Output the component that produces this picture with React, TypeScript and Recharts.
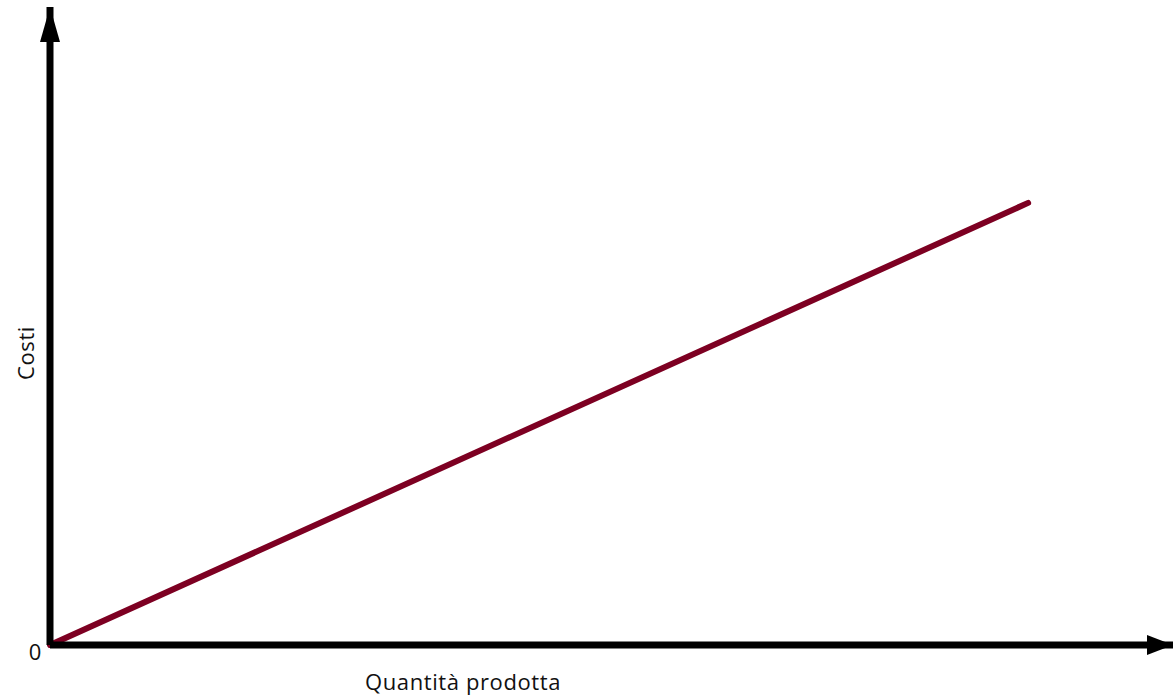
import React from 'react';
import { LineChart, Line, XAxis, YAxis, ReferenceDot } from 'recharts';

// quantity produced vs. cost (linear variable cost)
const quantities = [0, 87.1];
const costs = [0, 69.3];
const yTicks = [0];
const xLabel = 'Quantità prodotta';
const yLabel = 'Costi';

const data = quantities.map((q, i) => ({ q, c: costs[i] }));

const FONT = '"Open Sans", "Noto Sans", sans-serif';
const FONT_SIZE = 22;
const TEXT = '#111';

const ArrowRight = (props: any) => {
  const { cx, cy } = props;
  return <polygon points={`${cx},${cy} ${cx - 26},${cy - 10} ${cx - 26},${cy + 10}`} fill="#000" />;
};

const ArrowUp = (props: any) => {
  const { cx, cy } = props;
  return <polygon points={`${cx},${cy} ${cx - 10},${cy + 35} ${cx + 10},${cy + 35}`} fill="#000" />;
};

const YLabel = (props: any) => {
  const { viewBox } = props;
  const x = viewBox.x + 25;
  const y = viewBox.y + viewBox.height / 2 + 27;
  return (
    <text x={x} y={y} transform={`rotate(-90 ${x} ${y})`} textAnchor="middle" dominantBaseline="central"
      fontFamily={FONT} fontSize={FONT_SIZE} letterSpacing={0.6} fill={TEXT}>
      {yLabel}
    </text>
  );
};

const XLabel = (props: any) => {
  const { viewBox } = props;
  return (
    <text x={463} y={viewBox.y + 36} textAnchor="middle" dominantBaseline="central"
      fontFamily={FONT} fontSize={FONT_SIZE} letterSpacing={0.6} fill={TEXT}>
      {xLabel}
    </text>
  );
};

const ZeroTick = (props: any) => {
  const { y, payload } = props;
  return (
    <text x={35} y={y + 6} textAnchor="middle" dominantBaseline="central"
      fontFamily={FONT} fontSize={FONT_SIZE} fill={TEXT}>
      {payload.value}
    </text>
  );
};

export default function App() {
  return (
    <div style={{ position: 'absolute', left: 0, top: 0, background: '#fff' }}>
      <LineChart width={1173} height={695} data={data} margin={{ top: 7, right: 0, bottom: 0, left: 0 }}>
        <XAxis
          type="number"
          dataKey="q"
          domain={[0, 100]}
          height={50}
          tick={false}
          tickLine={false}
          axisLine={{ stroke: '#000', strokeWidth: 7 }}
          label={<XLabel />}
        />
        <YAxis
          type="number"
          domain={[0, 100]}
          width={50}
          ticks={yTicks}
          tick={<ZeroTick />}
          tickLine={false}
          axisLine={{ stroke: '#000', strokeWidth: 7 }}
          label={<YLabel />}
        />
        <Line
          type="linear"
          dataKey="c"
          stroke="#7d0022"
          strokeWidth={6}
          strokeLinecap="round"
          dot={false}
          isAnimationActive={false}
        />
        <ReferenceDot x={100} y={0} ifOverflow="visible" shape={<ArrowRight />} />
        <ReferenceDot x={0} y={100} ifOverflow="visible" shape={<ArrowUp />} />
      </LineChart>
    </div>
  );
}
